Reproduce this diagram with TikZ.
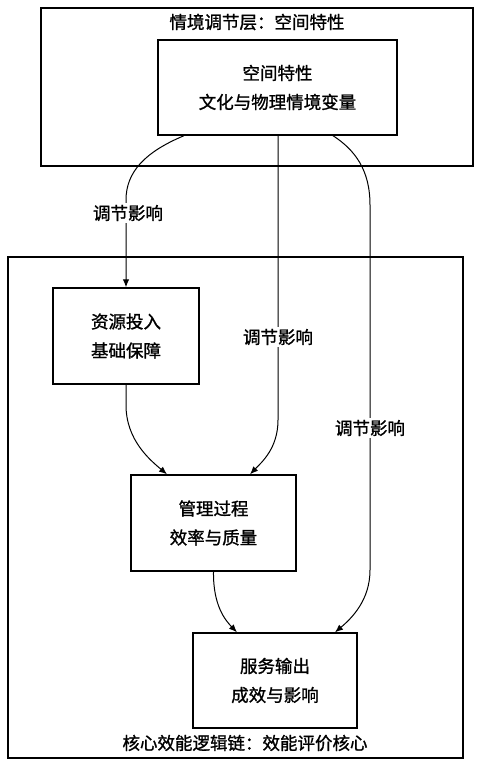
\documentclass[tikz,border=0pt]{standalone}
\usepackage{fontspec}
\setmainfont{Noto Sans CJK SC}[FakeBold=1.2]
\usetikzlibrary{arrows.meta}
\begin{document}
\begin{tikzpicture}[x=1pt,y=-1pt,
  every node/.style={font=\fontsize{17.5}{29}\selectfont, align=center, inner sep=0pt},
  outerbox/.style={draw, line width=2.4pt, anchor=center},
  boxnode/.style={draw, line width=1.4pt, anchor=center},
  conn/.style={line width=1pt, -{Latex[length=8pt,width=6.5pt]}},
  lab/.style={fill=white, inner sep=2pt}]
\useasboundingbox (0,0) rectangle (478,765);
\fill[white] (0,0) rectangle (478,765);
% outer boxes
\node[outerbox, minimum width=432pt, minimum height=158pt] (top) at (257,87) {};
\node[outerbox, minimum width=455pt, minimum height=501pt] (core) at (235.5,507.5) {};
\node (toptitle) at (257,22) {情境调节层：空间特性};
\node (coretitle) at (245,743) {核心效能逻辑链：效能评价核心};
% boxes
\node[boxnode, minimum width=239pt, minimum height=95pt] (sp) at (277.5,87.5) {空间特性\\文化与物理情境变量};
\node[boxnode, minimum width=146pt, minimum height=96pt] (zy) at (126,336) {资源投入\\基础保障};
\node[boxnode, minimum width=165pt, minimum height=96pt] (gl) at (213.5,523) {管理过程\\效率与质量};
\node[boxnode, minimum width=164pt, minimum height=95pt] (fw) at (275,680.5) {服务输出\\成效与影响};
% connectors
\draw[conn] ([xshift=-93.5pt]sp.south) .. controls (145,152) and (126,172) .. (126,200) -- (zy.north);
\node[lab] (l1) at (128,213) {调节影响};
\draw[conn] ([xshift=0.5pt]sp.south) -- (278,420) .. controls (278,448) and (262,462) .. ([xshift=36.5pt]gl.north);
\node[lab] (l2) at (278,337) {调节影响};
\draw[conn] ([xshift=55.5pt]sp.south) .. controls (355,150) and (370,170) .. (370,205) -- (370,570) .. controls (370,600) and (352,618) .. ([xshift=60pt]fw.north);
\node[lab] (l3) at (370,428) {调节影响};
\draw[conn] (zy.south) -- (126,405) .. controls (126,440) and (150,460) .. ([xshift=-46.5pt]gl.north);
\draw[conn] (gl.south) .. controls (213,605) and (225,620) .. ([xshift=-38pt]fw.north);
\end{tikzpicture}
\end{document}
